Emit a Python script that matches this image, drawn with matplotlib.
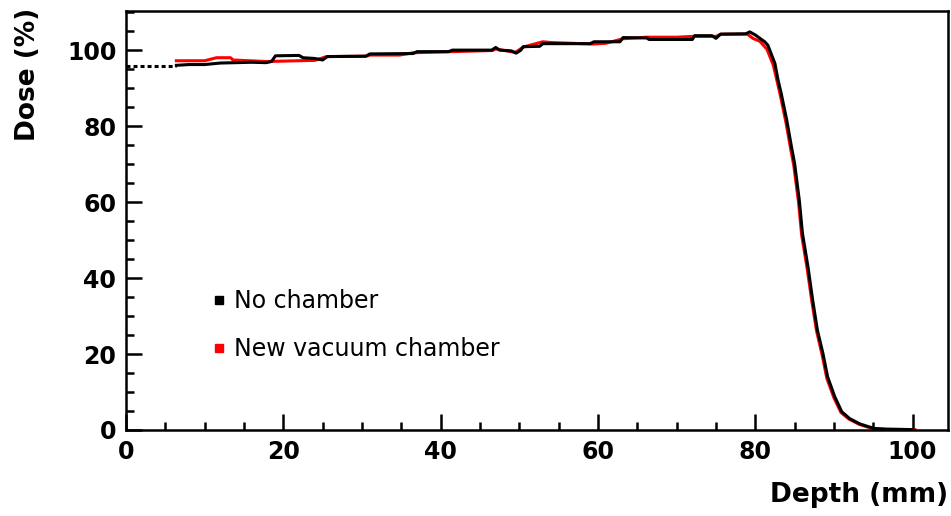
import matplotlib
matplotlib.use("Agg")
import matplotlib.pyplot as plt
from matplotlib.lines import Line2D
from matplotlib.ticker import MultipleLocator

# depth (mm) / dose (%)
depth_nochamber = [6.4, 8, 10, 12, 14, 16, 17.8, 18.5, 19, 22, 22.5, 24, 25, 25.6, 30.5, 31,
                   36.5, 37, 41, 41.5, 46.5, 47, 47.5, 49, 49.6, 50.2, 50.5, 52.6, 53, 59,
                   59.5, 62.8, 63.2, 66.2, 66.5, 72, 72.3, 74.5, 75, 75.6, 78.8, 79.3, 80,
                   81.2, 81.6, 82.5, 82.9, 83.3, 84, 84.6, 85, 85.6, 86, 86.7, 87.3, 87.9,
                   88.6, 89.2, 90.1, 91, 92, 93.3, 94.5, 95.2, 96.7, 100]
dose_nochamber = [96.0, 96.2, 96.2, 96.6, 96.7, 96.8, 96.7, 97.0, 98.5, 98.6, 98.0, 97.8, 97.4,
                  98.3, 98.4, 99.0, 99.1, 99.6, 99.6, 100.0, 100.0, 100.7, 100.0, 99.8, 99.2,
                  100.0, 100.9, 101.0, 101.7, 101.7, 102.2, 102.2, 103.3, 103.2, 102.8, 102.8,
                  103.8, 103.8, 103.1, 104.2, 104.3, 104.8, 104.0, 102.2, 101.3, 96.5, 92.1,
                  88.6, 81.6, 74.6, 70.2, 60.5, 51.8, 43.0, 34.2, 26.3, 20.2, 14.0, 8.8, 4.8,
                  3.0, 1.6, 0.8, 0.4, 0.2, 0.1]

depth_vacuum = [6.4, 10, 11.5, 13.3, 13.6, 17.8, 24, 25.5, 30.5, 31, 34.8, 36.5, 41.5, 46.6,
                47, 49.5, 50.5, 53, 54, 59.3, 61, 63.2, 66.2, 70, 72, 75, 75.6, 79, 79.7,
                80.6, 81.5, 82.3, 82.8, 83.2, 83.9, 84.5, 84.9, 85.5, 85.9, 86.6, 87.2,
                87.8, 88.5, 89.1, 90.0, 90.9, 91.9, 93.2, 94.4, 95.1, 96.6, 100.3]
dose_vacuum = [97.2, 97.2, 98.0, 98.0, 97.4, 97.0, 97.3, 98.3, 98.4, 98.7, 98.7, 99.3, 99.6,
               99.9, 100.3, 99.4, 100.8, 102.2, 102.0, 101.6, 101.8, 103.0, 103.4, 103.4,
               103.6, 103.6, 104.2, 104.2, 103.1, 102.3, 100.2, 96.0, 91.6, 88.0, 81.0, 74.0,
               69.6, 60.0, 51.3, 42.5, 33.8, 26.0, 19.8, 13.6, 8.5, 4.6, 2.9, 1.5, 0.7, 0.3,
               0.2, 0.1]

entrance_depth = [0, 6.4]
entrance_dose = [95.8, 95.8]

fig = plt.figure(figsize=(9.51, 5.16), dpi=100)
ax = fig.add_axes([0.1325, 0.1667, 0.8643, 0.812])

ax.plot(depth_vacuum, dose_vacuum, color='#ff0000', lw=2.2)
ax.plot(depth_nochamber, dose_nochamber, color='black', lw=2.2)
ax.plot(entrance_depth, entrance_dose, color='black', lw=2.2, linestyle=(0, (1.3, 1.0)))

ax.set_xlim(0, 104.5)
ax.set_ylim(0, 110.3)
ax.xaxis.set_major_locator(MultipleLocator(20))
ax.xaxis.set_minor_locator(MultipleLocator(5))
ax.yaxis.set_major_locator(MultipleLocator(20))
ax.yaxis.set_minor_locator(MultipleLocator(5))
ax.tick_params(which='both', direction='in', width=1.8, top=False, right=False)
ax.tick_params(which='major', length=11.5, labelsize=17, pad=7)
ax.tick_params(which='minor', length=6)
for lab in ax.get_xticklabels() + ax.get_yticklabels():
    lab.set_fontweight('bold')
for s in ax.spines.values():
    s.set_linewidth(1.8)

fig.text(0.0294, 0.985, 'Dose (%)', rotation=90, ha='center', va='top',
         fontsize=19, fontweight='bold')
ax.set_xlabel('Depth (mm)', loc='right', fontsize=19, fontweight='bold')
ax.xaxis.set_label_coords(1.0, -0.125)

handles = [Line2D([], [], color='black', marker='s', ls='none', markersize=6),
           Line2D([], [], color='#ff0000', marker='s', ls='none', markersize=6)]
ax.legend(handles, ['No chamber', 'New vacuum chamber'], loc='upper left',
          bbox_to_anchor=(0.09, 0.364), frameon=False, fontsize=17,
          handlelength=0.6, handletextpad=0.35, labelspacing=1.0, borderpad=0)

fig.savefig('out.png', dpi=100)
